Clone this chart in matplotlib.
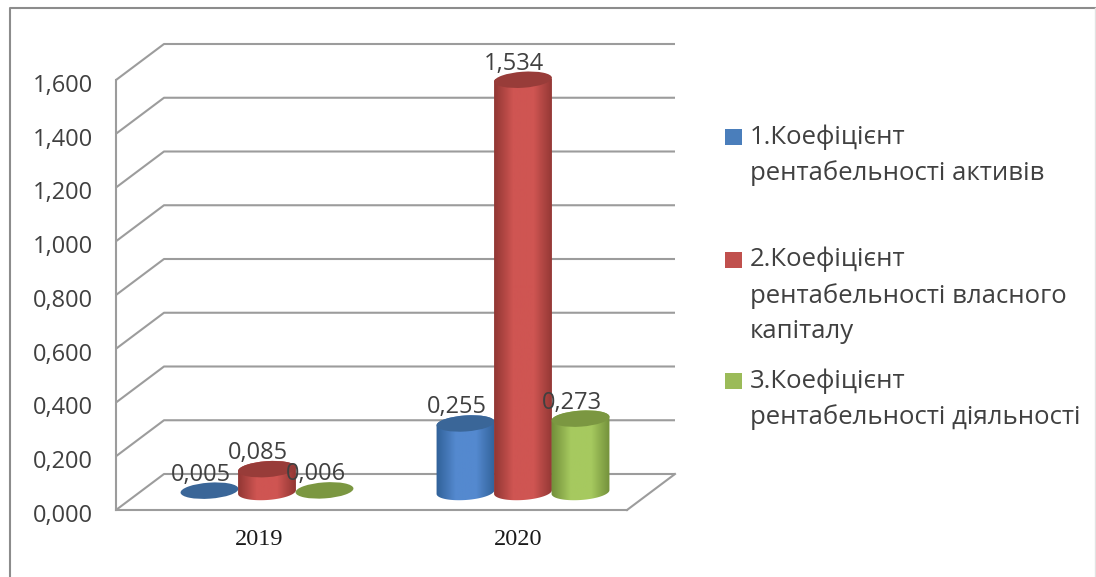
import numpy as np
import matplotlib
matplotlib.use('Agg')
import matplotlib.pyplot as plt
from matplotlib.lines import Line2D
from matplotlib.patches import Ellipse, PathPatch, Rectangle
from matplotlib.path import Path
from matplotlib.colors import LinearSegmentedColormap
from matplotlib.transforms import IdentityTransform, ScaledTranslation

categories = ['2019', '2020']
assets = [0.005, 0.255]
equity = [0.085, 1.534]
activity = [0.006, 0.273]
y_ticks = [0.0, 0.2, 0.4, 0.6, 0.8, 1.0, 1.2, 1.4, 1.6]
legend_labels = ['1.Коефіцієнт\nрентабельності активів',
                 '2.Коефіцієнт\nрентабельності власного\nкапіталу',
                 '3.Коефіцієнт\nрентабельності діяльності']

W, H = 1096, 577
TEXT = '#404040'
GRID = '#9c9c9c'
plt.rcParams['font.family'] = ['Open Sans', 'DejaVu Sans']

fig = plt.figure(figsize=(W / 100, H / 100), dpi=100)
# plot area is the front face of the fake 3d box
ax = fig.add_axes([116 / W, 1 - 510 / H, (627 - 116) / W, (510 - 80) / H])
ax.set_xlim(-143 / 259, 368 / 259)
ax.set_ylim(0, 1.6)
ax.patch.set_alpha(0)
px_x = 1 / 259
px_y = 1.6 / 430
depth_x = 48 * px_x
depth_y = 36 * px_y
x0, x1 = ax.get_xlim()

for v in y_ticks:
    ax.plot([x0, x0 + depth_x, x1 + depth_x], [v, v + depth_y, v + depth_y],
            color=GRID, lw=1.5, clip_on=False, zorder=1, solid_capstyle='butt')
ax.plot([x1, x1 + depth_x], [0, depth_y], color=GRID, lw=1.5, clip_on=False, zorder=1)

for side in ['top', 'right']:
    ax.spines[side].set_visible(False)
for side in ['left', 'bottom']:
    ax.spines[side].set_color(GRID)
    ax.spines[side].set_linewidth(1.5)

ax.set_yticks(y_ticks)
ax.set_yticklabels([f'{v:.3f}'.replace('.', ',') for v in y_ticks],
                   fontsize=17, color=TEXT)
ax.set_xticks(range(len(categories)))
ax.set_xticklabels(categories, fontsize=17.5, family='Liberation Serif', color='#1a1a1a')
ax.tick_params(axis='y', length=0, pad=16.5)
ax.tick_params(axis='x', length=0, pad=14)
for label in ax.get_yticklabels():
    label.set_transform(label.get_transform() + ScaledTranslation(0, -3 / 100, fig.dpi_scale_trans))


def ellipse_points(cx, cy, t):
    a, b, angle = 29, 8, np.radians(4)
    px = a * np.cos(t)
    py = b * np.sin(t)
    return np.column_stack([cx + px * np.cos(angle) - py * np.sin(angle),
                            cy + px * np.sin(angle) + py * np.cos(angle)])


def cylinder(x, value, colors, z):
    # x, value are data coords, the cylinder outline is built in pixels
    cx, cy0 = ax.transData.transform((x, 0))
    cy0 += 18
    cy1 = cy0 + value / px_y
    if value / px_y > 3:
        lower = ellipse_points(cx, cy0, np.linspace(np.pi, 2 * np.pi, 40))
        upper = ellipse_points(cx, cy1, np.linspace(0, np.pi, 40))
        outline = PathPatch(Path(np.vstack([lower, upper, lower[:1]])),
                            transform=IdentityTransform(), fc='none', ec='none', clip_on=False)
        ax.add_patch(outline)
        cmap = LinearSegmentedColormap.from_list('body', [colors[0], colors[1], colors[1], colors[0]])
        low = ax.transData.inverted().transform((cx - 31, cy0 - 12))
        high = ax.transData.inverted().transform((cx + 31, cy1 + 12))
        im = ax.imshow(np.linspace(0, 1, 64).reshape(1, -1), cmap=cmap, aspect='auto',
                       extent=(low[0], high[0], low[1], high[1]), zorder=z)
        im.set_clip_path(outline)
        im.set_clip_box(None)
    ax.add_patch(Ellipse((cx, cy1), 58, 16, angle=4, fc=colors[2], ec='none', clip_on=False,
                         transform=IdentityTransform(), zorder=z + 0.1))


series = [assets, equity, activity]
series_colors = [('#2f5f96', '#5489cf', '#3a6698'),
                 ('#8c3431', '#cf5552', '#983c39'),
                 ('#6f8c38', '#a6c95f', '#7b9741')]
legend_swatch = ['#4a7ebb', '#c0504d', '#9bbb59']
group_x = [8 * px_x, 1 + 5 * px_x]
bar_step = 57.5 * px_x

for i, values in enumerate(series):
    for j, v in enumerate(values):
        x = group_x[j] + (i - 1) * bar_step
        cylinder(x, v, series_colors[i], 3 + i)
        ax.annotate(f'{v:.3f}'.replace('.', ','), (x, v), xytext=(-9, 34),
                    textcoords='offset pixels', ha='center', va='center',
                    fontsize=17, color=TEXT, annotation_clip=False, zorder=10)
ax.set_xlim(x0, x1)
ax.set_ylim(0, 1.6)

legend_tops = [129, 252, 373]
for label, colour, top in zip(legend_labels, legend_swatch, legend_tops):
    fig.add_artist(Rectangle((725 / W, 1 - (top + 16) / H), 17 / W, 16 / H,
                             transform=fig.transFigure, fc=colour, ec='none'))
    fig.text(750 / W, 1 - (top - 5) / H, label, fontsize=18.5, color=TEXT,
             va='top', ha='left', linespacing=1.52)

# outer border of the pasted picture
fig.add_artist(Line2D([10 / W, 10 / W, 1], [0, 1 - 8 / H, 1 - 8 / H], color='#8c8c8c', lw=1.5))
fig.add_artist(Line2D([1095 / W, 1095 / W], [0, 1 - 8 / H], color='#e2e2e2', lw=1))

fig.savefig('out.png', dpi=100)
